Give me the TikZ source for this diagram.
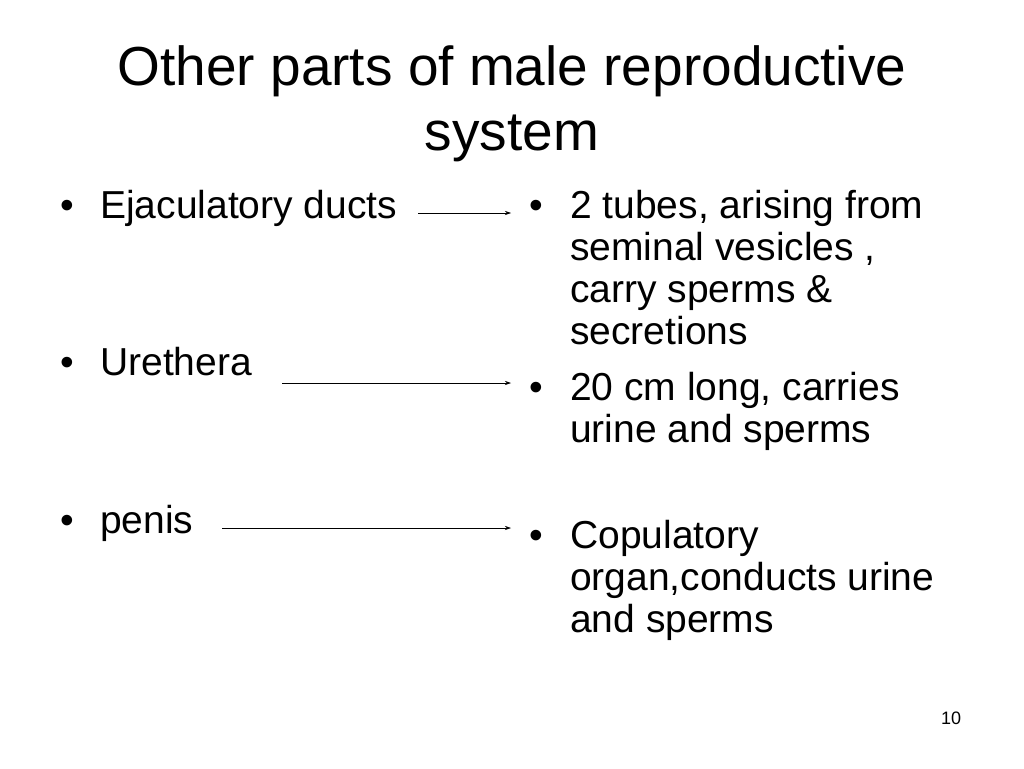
\documentclass[tikz,border=0pt]{standalone}
\usepackage{fontspec}
\setmainfont{Liberation Sans}
\usetikzlibrary{arrows.meta}
\begin{document}
\begin{tikzpicture}[
		x=1pt, y=-1pt,
		every node/.style={inner sep=0pt, anchor=base west},
		item/.style={font=\fontsize{39}{42}\selectfont},
		heading/.style={anchor=base, font=\fontsize{55}{60}\selectfont},
		link/.style={-{Stealth[length=6pt,width=4pt]}, line width=0.6pt}
	]
  \useasboundingbox (0,0) rectangle (1024,768);
  \node (title_a) [heading] at (512,85) {Other parts of male reproductive};
  \node (title_b) [heading] at (512,150) {system};
  % left column
  \node [item] at (60,218) {•};
  \node (ducts) [item] at (100,218) {Ejaculatory ducts};
  \node [item] at (60,375) {•};
  \node (urethra) [item] at (100,375) {Urethera};
  \node [item] at (60,533) {•};
  \node (penis) [item] at (100,533) {penis};
  % right column
  \foreach \y/\txt [count=\i] in {218/{2 tubes, arising from}, 260/{seminal vesicles ,},
      302/{carry sperms \&}, 344/secretions, 400/{20 cm long, carries},
      442/{urine and sperms}, 548/Copulatory, 590/{organ,conducts urine},
      632/{and sperms}}
    \node (line_\i) [item] at (570,\y) {\txt};
  \node [item] at (529,218) {•};
  \node [item] at (529,400) {•};
  \node [item] at (529,548) {•};
  \node (page) [font=\fontsize{18}{20}\selectfont] at (941,724) {10};
  \coordinate (d_a) at (418,213); \coordinate (d_b) at (511,213);
  \coordinate (u_a) at (282,383); \coordinate (u_b) at (511,383);
  \coordinate (p_a) at (222,528); \coordinate (p_b) at (511,528);
  \draw [link] (d_a) -- (d_b);
  \draw [link] (u_a) -- (u_b);
  \draw [link] (p_a) -- (p_b);
\end{tikzpicture}
\end{document}
